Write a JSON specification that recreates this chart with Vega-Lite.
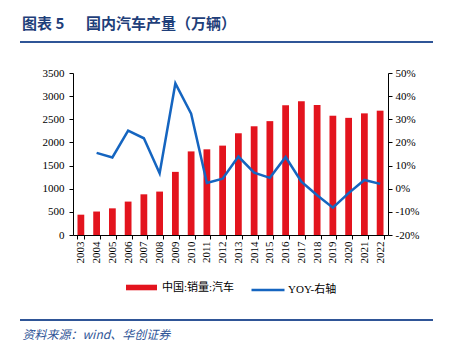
{
  "$schema": "https://vega.github.io/schema/vega-lite/v6.json",
  "width": 315,
  "height": 162,
  "autosize": {"type": "none"},
  "padding": {"left": 73, "top": 73, "right": 63, "bottom": 124},
  "background": "white",
  "config": {
    "view": {"stroke": null},
    "axis": {
      "labelFont": "Liberation Serif",
      "labelFontSize": 11,
      "labelColor": "#000000",
      "domainColor": "#000000",
      "tickColor": "#000000",
      "tickSize": 4,
      "grid": false
    },
    "legend": {
      "labelFont": "Liberation Serif, Noto Sans CJK SC",
      "labelFontSize": 11,
      "labelColor": "#000000",
      "padding": 0
    }
  },
  "title": {
    "text": "图表 5\u00a0\u00a0\u3000国内汽车产量（万辆）",
    "anchor": "start",
    "frame": "group",
    "dx": -51,
    "offset": 9,
    "font": "Noto Sans CJK SC",
    "fontSize": 15,
    "fontWeight": "bold",
    "color": "#1F3F7A"
  },
  "data": {
    "values": [
      {"year": "2003", "sales": 439, "yoy": null},
      {"year": "2004", "sales": 507, "yoy": 15.5},
      {"year": "2005", "sales": 576, "yoy": 13.5},
      {"year": "2006", "sales": 722, "yoy": 25.1},
      {"year": "2007", "sales": 879, "yoy": 21.8},
      {"year": "2008", "sales": 938, "yoy": 6.7},
      {"year": "2009", "sales": 1364, "yoy": 45.5},
      {"year": "2010", "sales": 1806, "yoy": 32.4},
      {"year": "2011", "sales": 1851, "yoy": 2.5},
      {"year": "2012", "sales": 1931, "yoy": 4.3},
      {"year": "2013", "sales": 2198, "yoy": 13.9},
      {"year": "2014", "sales": 2349, "yoy": 6.9},
      {"year": "2015", "sales": 2460, "yoy": 4.7},
      {"year": "2016", "sales": 2803, "yoy": 13.7},
      {"year": "2017", "sales": 2888, "yoy": 3.0},
      {"year": "2018", "sales": 2808, "yoy": -2.8},
      {"year": "2019", "sales": 2577, "yoy": -8.2},
      {"year": "2020", "sales": 2531, "yoy": -1.9},
      {"year": "2021", "sales": 2628, "yoy": 3.8},
      {"year": "2022", "sales": 2686, "yoy": 2.1}
    ]
  },
  "layer": [
    {
      "mark": {"type": "bar"},
      "encoding": {
        "x": {
          "field": "year",
          "type": "nominal",
          "sort": null,
          "scale": {"paddingInner": 0.57},
          "axis": {
            "labelAngle": -90,
            "tickBand": "extent",
            "labelPadding": 2,
            "title": "资料来源：wind、华创证券",
            "titleFont": "Noto Sans CJK SC",
            "titleFontSize": 12,
            "titleFontStyle": "italic",
            "titleFontWeight": "normal",
            "titleColor": "#2F5597",
            "titleAnchor": "start",
            "titleAlign": "left",
            "titleBaseline": "middle",
            "titleX": -51,
            "titleY": 99
          }
        },
        "y": {
          "field": "sales",
          "type": "quantitative",
          "scale": {"domain": [0, 3500]},
          "axis": {
            "orient": "left",
            "values": [0, 500, 1000, 1500, 2000, 2500, 3000, 3500],
            "format": "d",
            "title": null,
            "labelPadding": 5
          }
        },
        "fill": {
          "datum": "中国:销量:汽车",
          "type": "nominal",
          "scale": {"range": ["#E3141E"]},
          "legend": {
            "orient": "none",
            "legendX": 53,
            "legendY": 199,
            "title": null,
            "symbolType": "M-1,-0.18H1V0.18H-1Z",
            "symbolSize": 961,
            "symbolStrokeWidth": 0,
            "labelOffset": 5
          }
        }
      }
    },
    {
      "mark": {"type": "line", "strokeWidth": 2.5},
      "encoding": {
        "x": {"field": "year", "type": "nominal", "sort": null},
        "y": {
          "field": "yoy",
          "type": "quantitative",
          "scale": {"domain": [-20, 50]},
          "axis": {
            "orient": "right",
            "values": [-20, -10, 0, 10, 20, 30, 40, 50],
            "labelExpr": "datum.value + '%'",
            "title": null,
            "labelPadding": 3
          }
        },
        "stroke": {
          "datum": "YOY-右轴",
          "type": "nominal",
          "scale": {"range": ["#1565C0"]},
          "legend": {
            "orient": "none",
            "legendX": 177,
            "legendY": 199,
            "title": null,
            "symbolType": "stroke",
            "symbolSize": 1089,
            "symbolStrokeWidth": 2.5,
            "labelOffset": 2
          }
        }
      }
    },
    {
      "data": {"values": [{"k": "header"}]},
      "mark": {"type": "rule", "color": "#2F5597", "strokeWidth": 2},
      "encoding": {
        "x": {"value": -53},
        "x2": {"value": 360},
        "y": {"value": -31}
      }
    },
    {
      "data": {"values": [{"k": "footer"}]},
      "mark": {"type": "rule", "color": "#2F5597", "strokeWidth": 2},
      "encoding": {
        "x": {"value": -53},
        "x2": {"value": 360},
        "y": {"value": 247}
      }
    }
  ],
  "resolve": {"scale": {"y": "independent"}}
}
